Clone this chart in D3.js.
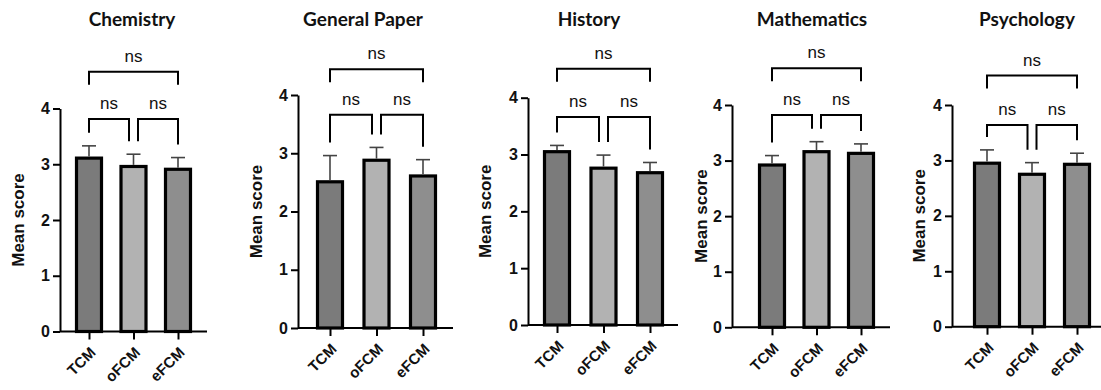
<!DOCTYPE html>
<html>
<head>
<meta charset="utf-8">
<script src="https://cdn.jsdelivr.net/npm/d3@7"></script>
<style>
  html, body { margin: 0; padding: 0; background: #fff; }
  svg { display: block; }
  text.arial { font-family: "Liberation Sans", Arial, Helvetica, sans-serif; }
</style>
</head>
<body>
<svg id="chart" width="1101" height="390"></svg>
<script>
// ---------- data ----------
const categories = ["TCM", "oFCM", "eFCM"];
const subjects = ["Chemistry", "General Paper", "History", "Mathematics", "Psychology"];
const yTicks = [0, 1, 2, 3, 4];

const meanChemistry   = [3.11, 2.96, 2.91];
const meanGeneral     = [2.51, 2.88, 2.61];
const meanHistory     = [3.05, 2.76, 2.68];
const meanMathematics = [2.92, 3.16, 3.13];
const meanPsychology  = [2.95, 2.75, 2.93];

const semChemistry   = [0.22, 0.22, 0.21];
const semGeneral     = [0.45, 0.22, 0.28];
const semHistory     = [0.11, 0.23, 0.18];
const semMathematics = [0.17, 0.18, 0.17];
const semPsychology  = [0.24, 0.21, 0.20];

// significance comparisons (pairs of category indexes) and their labels
const comparisons = [[0, 1], [1, 2], [0, 2]];
const sigLabels = ["ns", "ns", "ns"];
// bracket heights (in score units) per subject
const lowerBracketLevel = [3.81, 3.66, 3.66, 3.82, 3.64];
const upperBracketLevel = [4.66, 4.44, 4.51, 4.66, 4.53];

const means = [meanChemistry, meanGeneral, meanHistory, meanMathematics, meanPsychology];
const sems  = [semChemistry, semGeneral, semHistory, semMathematics, semPsychology];

// ---------- layout (styling only) ----------
const layout = [
  { axisX: 60,  c0: 89,  c1: 178,  xEnd: 207,  y0: 331.5, y4: 108.5, labelX: 20,  titleX: 132 },
  { axisX: 298, c0: 330, c1: 423,  xEnd: 453,  y0: 328,   y4: 95,    labelX: 258, titleX: 363 },
  { axisX: 528, c0: 557, c1: 650,  xEnd: 678,  y0: 325,   y4: 97.7,  labelX: 487, titleX: 589 },
  { axisX: 732, c0: 772, c1: 861,  xEnd: 890,  y0: 327.3, y4: 105,   labelX: 703, titleX: 812 },
  { axisX: 952, c0: 987, c1: 1077, xEnd: 1101, y0: 326.7, y4: 105,   labelX: 921, titleX: 1027 }
];
const barColors = ["#7b7b7b", "#b2b2b2", "#8e8e8e"];
const barWidth = 25;
const legGap = 13;
const upperLeg = 13;
const pairInset = 4.5;

const svg = d3.select("#chart");

subjects.forEach((subj, si) => {
  const L = layout[si];
  const g = svg.append("g");
  const x = d3.scalePoint().domain(categories).range([L.c0, L.c1]);
  const y = d3.scaleLinear().domain([0, 4]).range([L.y0, L.y4]);

  // title
  g.append("text")
    .attr("x", L.titleX).attr("y", 26)
    .attr("text-anchor", "middle")
    .style("font-family", "Lato, 'Open Sans', sans-serif")
    .style("font-weight", 700)
    .style("font-size", "19px")
    .attr("fill", "#111")
    .text(subj);

  // y label
  g.append("text")
    .attr("class", "arial")
    .attr("transform", `translate(${L.labelX},${(L.y0 + L.y4) / 2}) rotate(-90)`)
    .attr("text-anchor", "middle")
    .attr("dominant-baseline", "middle")
    .style("font-weight", 700)
    .style("font-size", "17px")
    .attr("fill", "#111")
    .text("Mean score");

  // bars
  const d = categories.map((c, i) => ({ c, i, m: means[si][i], s: sems[si][i] }));
  g.selectAll("rect.bar").data(d).enter().append("rect")
    .attr("class", "bar")
    .attr("x", e => x(e.c) - barWidth / 2)
    .attr("width", barWidth)
    .attr("y", e => y(e.m))
    .attr("height", e => y(0) - y(e.m))
    .attr("fill", e => barColors[e.i])
    .attr("stroke", "#000")
    .attr("stroke-width", 3.2);

  // error bars (upper only)
  g.selectAll("line.err").data(d).enter().append("line")
    .attr("x1", e => x(e.c)).attr("x2", e => x(e.c))
    .attr("y1", e => y(e.m) - 1.6).attr("y2", e => y(e.m + e.s))
    .attr("stroke", "#444").attr("stroke-width", 1.6);
  g.selectAll("line.cap").data(d).enter().append("line")
    .attr("x1", e => x(e.c) - 7).attr("x2", e => x(e.c) + 7)
    .attr("y1", e => y(e.m + e.s)).attr("y2", e => y(e.m + e.s))
    .attr("stroke", "#444").attr("stroke-width", 1.6);

  // y axis
  const ya = g.append("g")
    .attr("transform", `translate(${L.axisX},0)`)
    .call(d3.axisLeft(y).tickValues(yTicks).tickFormat(d3.format("d")).tickSize(7).tickSizeOuter(0).tickPadding(3));
  ya.select(".domain").attr("stroke", "#000").attr("stroke-width", 2);
  ya.selectAll(".tick line").attr("stroke", "#000").attr("stroke-width", 2);
  ya.selectAll(".tick text")
    .attr("class", "arial")
    .style("font-weight", 700).style("font-size", "16px").attr("fill", "#111");

  // x axis
  const xa = g.append("g")
    .attr("transform", `translate(0,${L.y0})`)
    .call(d3.axisBottom(x).tickSize(8).tickSizeOuter(0));
  xa.select(".domain").remove();
  xa.append("line")
    .attr("x1", L.axisX).attr("x2", L.xEnd).attr("y1", 0).attr("y2", 0)
    .attr("stroke", "#000").attr("stroke-width", 2);
  xa.selectAll(".tick line").attr("stroke", "#000").attr("stroke-width", 2);
  xa.selectAll(".tick text")
    .attr("class", "arial")
    .attr("text-anchor", "end")
    .attr("dy", null).attr("y", 0)
    .attr("transform", "translate(7,22) rotate(-45)")
    .style("font-weight", 700).style("font-size", "15px").attr("fill", "#111");

  // significance brackets
  comparisons.forEach((pair, k) => {
    const a = categories[pair[0]], b = categories[pair[1]];
    const adjacent = pair[1] - pair[0] === 1;
    let xa1 = x(a), xb1 = x(b), level, ya1, yb1;
    if (adjacent) {
      level = y(lowerBracketLevel[si]);
      if (pair[0] === 0) xb1 -= pairInset; else xa1 += pairInset;
      ya1 = y(means[si][pair[0]] + sems[si][pair[0]]) - legGap;
      yb1 = y(means[si][pair[1]] + sems[si][pair[1]]) - legGap;
    } else {
      level = y(upperBracketLevel[si]);
      ya1 = level + upperLeg;
      yb1 = level + upperLeg;
    }
    g.append("path")
      .attr("d", `M${xa1},${ya1}V${level}H${xb1}V${yb1}`)
      .attr("fill", "none").attr("stroke", "#000").attr("stroke-width", 2);
    g.append("text")
      .attr("class", "arial")
      .attr("x", (xa1 + xb1) / 2).attr("y", level - 10)
      .attr("text-anchor", "middle")
      .style("font-size", "17px").attr("fill", "#111")
      .text(sigLabels[k]);
  });
});
</script>
</body>
</html>
